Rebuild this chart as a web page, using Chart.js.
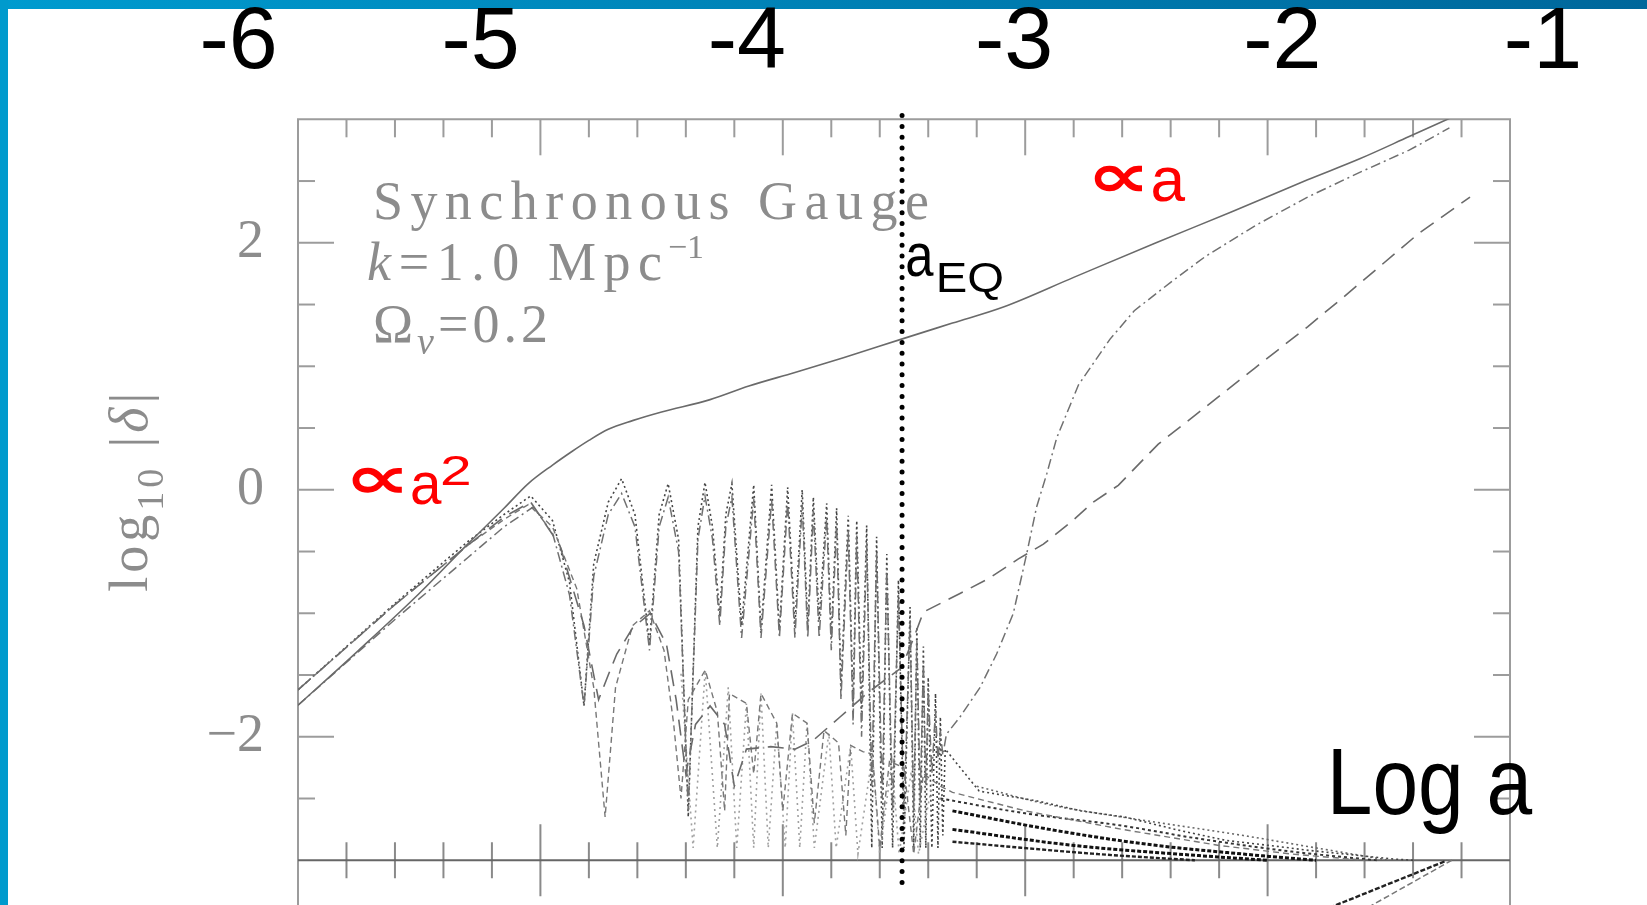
<!DOCTYPE html>
<html>
<head>
<meta charset="utf-8">
<script src="https://cdn.jsdelivr.net/npm/chart.js@4.4.1/dist/chart.umd.min.js"></script>
<style>
html, body { margin: 0; padding: 0; background: #fff; overflow: hidden; }
#wrap { position: relative; width: 1647px; height: 905px; overflow: hidden; }
#barTop { position: absolute; left: 0; top: 0; width: 1647px; height: 9px; background: linear-gradient(to right, #009bcf, #00679b); }
#barLeft { position: absolute; left: 0; top: 0; width: 8px; height: 905px; background: #009acd; }
canvas { position: absolute; left: 0; top: 0; }
</style>
</head>
<body>
<div id="wrap">
  <div id="barTop"></div>
  <div id="barLeft"></div>
  <canvas id="chart-delta" width="1647" height="930"></canvas>
</div>
<script>
// labels typed above the plot, and where they sit on the log a axis
var topLabels = ['-6', '-5', '-4', '-3', '-2', '-1'];
var topLabelAt = [-6.245, -5.247, -4.148, -3.046, -1.939, -0.864];
var yTickValues = [-2, 0, 2];
var yTickLabels = ['\u22122', '0', '2'];

// CDM (solid)
var cdmX = [-6.0, -5.75, -5.5, -5.3, -5.15, -5.05, -4.95, -4.87, -4.8, -4.72, -4.62, -4.5, -4.3, -4.14, -3.95, -3.75, -3.51, -3.3, -3.09, -2.8, -2.46, -2.15, -1.835, -1.62, -1.416, -1.247];
var cdmY = [-1.745, -1.3, -0.84, -0.44, -0.15, 0.05, 0.2, 0.31, 0.4, 0.49, 0.56, 0.63, 0.73, 0.84, 0.95, 1.07, 1.22, 1.35, 1.48, 1.72, 2.0, 2.25, 2.51, 2.68, 2.86, 3.01];

// photons (dotted), then the damped tail at the bottom
var gamX = [-6.0, -5.6, -5.3, -5.15, -5.04, -4.95, -4.88, -4.82, -4.78, -4.72, -4.665, -4.61, -4.55, -4.51, -4.473, -4.43, -4.39, -4.35, -4.321, -4.29, -4.26, -4.235, -4.21, -4.17, -4.12, -4.09, -4.046, -4.014, -3.98, -3.95, -3.92, -3.897, -3.874, -3.85, -3.819, -3.8, -3.778, -3.76, -3.73, -3.71, -3.695, -3.675, -3.654, -3.633, -3.613, -3.59, -3.571, -3.547, -3.523, -3.5, -3.475, -3.46, -3.447, -3.433, -3.42, -3.41, -3.4, -3.385, -3.37, -3.36, -3.35, -3.34, -3.33, -3.19, -2.95, -2.77, -2.59, -2.36, -2.17, -1.95, -1.83, -1.48, -1.4];
var gamY = [-1.62, -0.92, -0.42, -0.2, -0.05, -0.25, -0.75, -1.75, -0.6, -0.1, 0.09, -0.2, -1.25, -0.2, 0.05, -0.4, -2.65, -0.3, 0.06, -0.3, -1.02, -0.2, 0.05, -1.1, 0.04, -1.14, 0.04, -1.14, 0.02, -1.11, 0.0, -1.11, -0.06, -1.06, -0.11, -1.2, -0.15, -1.6, -0.21, -1.76, -0.25, -1.8, -0.29, -2.9, -0.38, -2.9, -0.52, -2.9, -0.73, -2.9, -0.95, -2.9, -1.11, -2.9, -1.27, -2.9, -1.52, -2.9, -1.65, -2.9, -1.84, -2.8, -2.1, -2.44, -2.52, -2.6, -2.65, -2.76, -2.84, -2.89, -2.92, -2.99, -3.0];

// baryons (dash-dot)
var barX = [-6.0, -5.6, -5.3, -5.15, -5.03, -4.95, -4.88, -4.82, -4.78, -4.72, -4.665, -4.61, -4.55, -4.51, -4.473, -4.43, -4.39, -4.35, -4.321, -4.29, -4.26, -4.235, -4.21, -4.17, -4.12, -4.09, -4.046, -4.014, -3.98, -3.95, -3.92, -3.897, -3.874, -3.85, -3.819, -3.8, -3.778, -3.76, -3.73, -3.71, -3.695, -3.675, -3.654, -3.633, -3.613, -3.59, -3.571, -3.547, -3.523, -3.5, -3.475, -3.46, -3.447, -3.433, -3.42, -3.41, -3.4, -3.385, -3.37, -3.36, -3.35, -3.34, -3.325, -3.269, -3.186, -3.118, -3.049, -2.994, -2.953, -2.911, -2.87, -2.78, -2.65, -2.55, -2.4, -2.256, -2.05, -1.835, -1.62, -1.416, -1.25];
var barY = [-1.745, -1.05, -0.55, -0.3, -0.14, -0.35, -0.85, -1.75, -0.7, -0.2, -0.03, -0.3, -1.3, -0.3, -0.06, -0.5, -2.6, -0.4, -0.05, -0.4, -1.1, -0.3, -0.06, -1.2, -0.07, -1.2, -0.08, -1.2, -0.1, -1.2, -0.12, -1.2, -0.17, -1.2, -0.22, -1.3, -0.27, -1.7, -0.33, -1.9, -0.37, -2.0, -0.42, -2.4, -0.5, -2.5, -0.64, -2.6, -0.85, -2.6, -1.06, -2.6, -1.22, -2.5, -1.4, -2.4, -1.62, -2.3, -1.78, -2.2, -1.95, -2.15, -1.98, -1.84, -1.6, -1.33, -1.0, -0.52, -0.14, 0.13, 0.42, 0.85, 1.22, 1.45, 1.68, 1.89, 2.14, 2.37, 2.57, 2.75, 2.93];

// massless neutrinos (dashed)
var nuX = [-6.0, -5.6, -5.3, -5.15, -5.05, -4.95, -4.85, -4.78, -4.733, -4.69, -4.62, -4.55, -4.49, -4.45, -4.42, -4.39, -4.32, -4.27, -4.24, -4.22, -4.15, -4.12, -4.09, -4.025, -4.0, -3.96, -3.9, -3.87, -3.83, -3.77, -3.74, -3.72, -3.67, -3.63, -3.6, -3.56, -3.5, -3.46, -3.42, -3.35, -3.3, -3.0, -2.6, -2.2, -1.9, -1.6];
var nuY = [-1.62, -0.93, -0.45, -0.24, -0.12, -0.3, -0.8, -1.6, -2.65, -1.6, -1.1, -0.98, -1.3, -1.9, -2.5, -1.7, -1.46, -1.8, -2.6, -1.65, -1.73, -2.3, -1.65, -1.89, -2.6, -1.81, -1.89, -2.7, -1.95, -2.05, -2.8, -2.07, -2.12, -2.14, -2.9, -2.2, -2.25, -2.95, -2.3, -2.4, -2.45, -2.6, -2.75, -2.88, -2.95, -3.0];

// scattered neutrino oscillation under the acoustic peaks (light dots)
var nu2X = [-4.42, -4.37, -4.32, -4.27, -4.225, -4.19, -4.15, -4.12, -4.09, -4.06, -4.025, -3.99, -3.96, -3.93, -3.9, -3.87, -3.81, -3.78, -3.72, -3.69, -3.63, -3.6, -3.55, -3.52, -3.47, -3.44, -3.38];
var nu2Y = [-1.49, -2.9, -1.46, -2.9, -1.6, -2.9, -1.73, -2.9, -1.65, -2.9, -1.89, -2.9, -1.81, -2.9, -1.89, -2.9, -1.97, -2.9, -2.07, -2.95, -2.14, -2.95, -2.2, -2.95, -2.28, -2.95, -2.35];

// massive neutrinos (long dashes)
var hdmX = [-6.0, -5.6, -5.3, -5.15, -5.04, -4.92, -4.82, -4.76, -4.72, -4.685, -4.62, -4.547, -4.48, -4.44, -4.4, -4.36, -4.3, -4.24, -4.2, -4.15, -4.05, -3.95, -3.875, -3.764, -3.654, -3.51, -3.46, -3.42, -3.269, -3.152, -3.028, -2.925, -2.81, -2.719, -2.616, -2.451, -2.256, -2.05, -1.835, -1.687, -1.374, -1.165];
var hdmY = [-1.62, -0.93, -0.45, -0.22, -0.1, -0.45, -1.1, -1.7, -1.5, -1.33, -1.12, -1.0, -1.25, -1.7, -2.3, -1.9, -1.75, -1.9, -2.4, -2.1, -2.08, -2.1, -2.03, -1.84, -1.65, -1.44, -1.2, -0.99, -0.84, -0.72, -0.56, -0.44, -0.26, -0.1, 0.036, 0.37, 0.67, 0.99, 1.32, 1.56, 2.08, 2.37];

// dark bands at the bottom right
var tailAX = [-3.3, -2.9, -2.5, -2.1, -1.8];
var tailAY = [-2.6, -2.75, -2.87, -2.95, -3.0];
var tailBX = [-3.3, -2.8, -2.3, -2.0];
var tailBY = [-2.75, -2.88, -2.96, -3.0];
var tailCX = [-3.35, -3.0, -2.6, -2.3, -1.9, -1.55];
var tailCY = [-2.5, -2.62, -2.72, -2.82, -2.93, -3.0];
var tailDX = [-3.3, -2.7, -2.3];
var tailDY = [-2.85, -2.95, -3.0];
var tailEX = [-3.2, -2.9, -2.5, -2.1, -1.8, -1.5];
var tailEY = [-2.4, -2.55, -2.68, -2.8, -2.9, -3.0];

// lines of the panel below
var lowAX = [-1.27, -1.79];
var lowAY = [-3.01, -3.42];
var lowBX = [-1.24, -1.62];
var lowBY = [-3.0, -3.42];

// matter-radiation equality
var aEqX = [-3.508, -3.508];
var aEqY = [3.03, -3.23];

var gray = '#8c8c8c';
var red = '#ff0000';
var serif = '"Liberation Serif", "DejaVu Serif", serif';
var slide = '"Comic Sans MS", "Liberation Sans", "DejaVu Sans", sans-serif';
var symb = '"DejaVu Sans", sans-serif';

// text of the original figure (baseline at x, y)
var notes = [
    { x: -5.691, y: 2.192, w: 556, parts: [{ t: 'Synchronous Gauge', f: '54px ' + serif, c: gray }] },
    { x: -5.715, y: 1.698, w: 295, parts: [{ t: 'k', f: 'italic 54px ' + serif, c: gray }, { t: '=1.0 Mpc', f: '54px ' + serif, c: gray }] },
    { x: -4.474, y: 1.876, w: 39, parts: [{ t: '\u22121', f: '34px ' + serif, c: gray }] },
    { x: -5.691, y: 1.198, w: 175, parts: [{ t: '\u03a9', f: '54px ' + serif, c: gray }, { t: '\u03bd', f: 'italic 38px ' + serif, c: gray, dy: 12 }, { t: '=0.2', f: '54px ' + serif, c: gray }] }
];
// slide labels (ink box: left x, top y, width, height in px)
var marks = [
    { t: '\u221d', f: 'bold 60px ' + symb, c: red, x: -5.7785, y: 0.185, w: 50, h: 26 },
    { t: 'a', f: '64px ' + slide, c: red, x: -5.531, y: 0.144, w: 30, h: 33 },
    { t: '2', f: '40px ' + slide, c: red, x: -5.402, y: 0.28, w: 27, h: 30 },
    { t: '\u221d', f: 'bold 60px ' + symb, c: red, x: -2.716, y: 2.63, w: 48, h: 27 },
    { t: 'a', f: '64px ' + slide, c: red, x: -2.475, y: 2.616, w: 33, h: 35 },
    { t: 'a', f: '62px ' + slide, c: '#000', x: -3.4876, y: 1.998, w: 27, h: 34 },
    { t: 'EQ', f: '42px ' + slide, c: '#000', x: -3.3556, y: 1.846, w: 63, h: 38 },
    { t: 'Log a', f: '92px ' + slide, c: '#000', x: -1.7302, y: -2.095, w: 200, h: 85 }
];
var yTitle = { x: -6.624, y: -0.02, w: 199, parts: [
    { t: 'log', f: '54px ' + serif, c: gray },
    { t: '10', f: '38px ' + serif, c: gray, dy: 16 },
    { t: ' |', f: '54px ' + serif, c: gray },
    { t: '\u03b4', f: 'italic 54px ' + serif, c: gray },
    { t: '|', f: '54px ' + serif, c: gray }
] };

function pts(xs, ys) {
    return xs.map(function (v, i) { return { x: v, y: ys[i] }; });
}

// spread parts over width w by letter spacing
function drawParts(ctx, parts, x, y, w) {
    ctx.save();
    ctx.textBaseline = 'alphabetic';
    ctx.textAlign = 'left';
    var natural = 0, chars = 0;
    parts.forEach(function (p) {
        ctx.font = p.f;
        natural += ctx.measureText(p.t).width;
        chars += p.t.length;
    });
    var gap = (w - natural) / Math.max(chars - 1, 1);
    if (chars === 2 && parts.length === 1) gap = 0;
    ctx.translate(x, y);
    if (gap < 0) { ctx.scale(w / natural, 1); gap = 0; }
    var cx = 0;
    parts.forEach(function (p) {
        ctx.font = p.f;
        ctx.fillStyle = p.c;
        var wd = ctx.measureText(p.t).width;
        ctx.letterSpacing = gap.toFixed(2) + 'px';
        ctx.fillText(p.t, cx, p.dy || 0);
        ctx.letterSpacing = '0px';
        cx += wd + gap * p.t.length;
    });
    ctx.restore();
}

// stretch the glyphs so their ink fills the box
function drawInk(ctx, m, x, y) {
    ctx.save();
    ctx.font = m.f;
    ctx.textAlign = 'left';
    ctx.textBaseline = 'alphabetic';
    var k = ctx.measureText(m.t);
    var iw = k.actualBoundingBoxLeft + k.actualBoundingBoxRight;
    var ih = k.actualBoundingBoxAscent + k.actualBoundingBoxDescent;
    ctx.translate(x, y);
    ctx.scale(m.w / iw, m.h / ih);
    ctx.fillStyle = m.c;
    ctx.fillText(m.t, k.actualBoundingBoxLeft, k.actualBoundingBoxAscent);
    ctx.restore();
}

// box and inward ticks of the original figure
var framePlugin = {
    id: 'frame',
    beforeDatasetsDraw: function (chart) {
        var ctx = chart.ctx, xs = chart.scales.x, ys = chart.scales.y;
        var left = xs.getPixelForValue(-6), right = xs.getPixelForValue(-1);
        var top = ys.getPixelForValue(3), base = ys.getPixelForValue(-3);
        var bottom = chart.height;
        ctx.save();
        ctx.lineWidth = 2;
        ctx.strokeStyle = '#9c9c9c';
        ctx.beginPath();
        ctx.moveTo(left, bottom); ctx.lineTo(left, top);
        ctx.lineTo(right, top); ctx.lineTo(right, bottom);
        ctx.stroke();
        var i, v, p, len;
        for (i = 1; i < 25; i++) {
            v = -6 + i * 0.2;
            p = xs.getPixelForValue(v);
            len = i % 5 === 0 ? 36 : 18;
            ctx.strokeStyle = '#9c9c9c';
            ctx.beginPath(); ctx.moveTo(p, top); ctx.lineTo(p, top + len); ctx.stroke();
            ctx.strokeStyle = '#8a8a8a';
            ctx.beginPath(); ctx.moveTo(p, base - len); ctx.lineTo(p, base + len); ctx.stroke();
        }
        ctx.strokeStyle = '#9c9c9c';
        for (i = -7; i <= 5; i++) {
            v = i * 0.5;
            if (v === -3) continue;
            p = ys.getPixelForValue(v);
            len = (v === -2 || v === 0 || v === 2) ? 36 : 17;
            ctx.beginPath(); ctx.moveTo(left, p); ctx.lineTo(left + len, p); ctx.stroke();
            ctx.beginPath(); ctx.moveTo(right, p); ctx.lineTo(right - len, p); ctx.stroke();
        }
        ctx.strokeStyle = '#666';
        ctx.beginPath(); ctx.moveTo(left, base); ctx.lineTo(right, base); ctx.stroke();
        ctx.restore();
    }
};

var notesPlugin = {
    id: 'notes',
    afterDatasetsDraw: function (chart) {
        var ctx = chart.ctx, xs = chart.scales.x, ys = chart.scales.y;
        notes.forEach(function (n) {
            drawParts(ctx, n.parts, xs.getPixelForValue(n.x), ys.getPixelForValue(n.y), n.w);
        });
        marks.forEach(function (m) {
            drawInk(ctx, m, xs.getPixelForValue(m.x), ys.getPixelForValue(m.y));
        });
        ctx.save();
        ctx.translate(xs.getPixelForValue(yTitle.x), ys.getPixelForValue(yTitle.y));
        ctx.rotate(-Math.PI / 2);
        drawParts(ctx, yTitle.parts, -yTitle.w / 2, 0, yTitle.w);
        ctx.restore();
    }
};

function curve(xs, ys, color, width, dash, smooth) {
    return {
        data: pts(xs, ys),
        showLine: true,
        borderColor: color,
        borderWidth: width,
        borderDash: dash,
        pointRadius: 0,
        tension: 0,
        cubicInterpolationMode: smooth ? 'monotone' : 'default'
    };
}

var eq = curve(aEqX, aEqY, '#000', 5, [0, 10.8]);
eq.borderCapStyle = 'round';
eq.clip = false;

var ctx = document.getElementById('chart-delta').getContext('2d');
var chart = new Chart(ctx, {
    type: 'scatter',
    data: {
        datasets: [
            eq,
            curve(cdmX, cdmY, '#6a6a6a', 1.6, [], true),
            curve(barX, barY, '#707070', 1.5, [10, 4, 2, 4]),
            curve(hdmX, hdmY, '#6a6a6a', 1.6, [16, 9]),
            curve(nuX, nuY, '#777', 1.4, [6, 4]),
            curve(nu2X, nu2Y, '#a0a0a0', 1.6, [2, 4]),
            curve(gamX, gamY, '#444', 1.6, [2, 3]),
            curve(tailAX, tailAY, '#111', 3, [4, 2], true),
            curve(tailBX, tailBY, '#111', 3, [4, 2], true),
            curve(tailCX, tailCY, '#333', 2, [3, 3], true),
            curve(tailDX, tailDY, '#222', 2.4, [4, 2], true),
            curve(tailEX, tailEY, '#666', 1.6, [2, 3], true),
            curve(lowAX, lowAY, '#222', 2.4, [5, 2]),
            curve(lowBX, lowBY, '#777', 1.5, [6, 3])
        ]
    },
    options: {
        responsive: false,
        animation: false,
        devicePixelRatio: 1,
        layout: { padding: { left: 8, top: 0, right: 137, bottom: 8 } },
        plugins: { legend: { display: false }, tooltip: { enabled: false } },
        scales: {
            x: { type: 'linear', min: -6, max: -1, display: false },
            xTop: {
                type: 'linear', position: 'top', min: -6, max: -1,
                grid: { display: false, drawTicks: false },
                border: { display: false },
                afterBuildTicks: function (s) {
                    s.ticks = topLabelAt.map(function (v) { return { value: v }; });
                },
                afterFit: function (s) { s.height = 119.3; s.paddingLeft = 0; s.paddingRight = 0; },
                ticks: {
                    autoSkip: false, maxRotation: 0, padding: 32, color: '#000',
                    font: { family: slide, size: 88, lineHeight: 1 },
                    callback: function (v, i) { return topLabels[i]; }
                }
            },
            y: {
                type: 'linear', position: 'left', min: -3.5, max: 3,
                grid: { display: false, drawTicks: false },
                border: { display: false },
                afterBuildTicks: function (s) {
                    s.ticks = yTickValues.map(function (v) { return { value: v }; });
                },
                afterFit: function (s) { s.width = 290; s.paddingTop = 0; s.paddingBottom = 0; },
                ticks: {
                    padding: 34, color: gray,
                    font: { family: serif, size: 54 },
                    callback: function (v, i) { return yTickLabels[i]; }
                }
            }
        }
    },
    plugins: [framePlugin, notesPlugin]
});
</script>
</body>
</html>
